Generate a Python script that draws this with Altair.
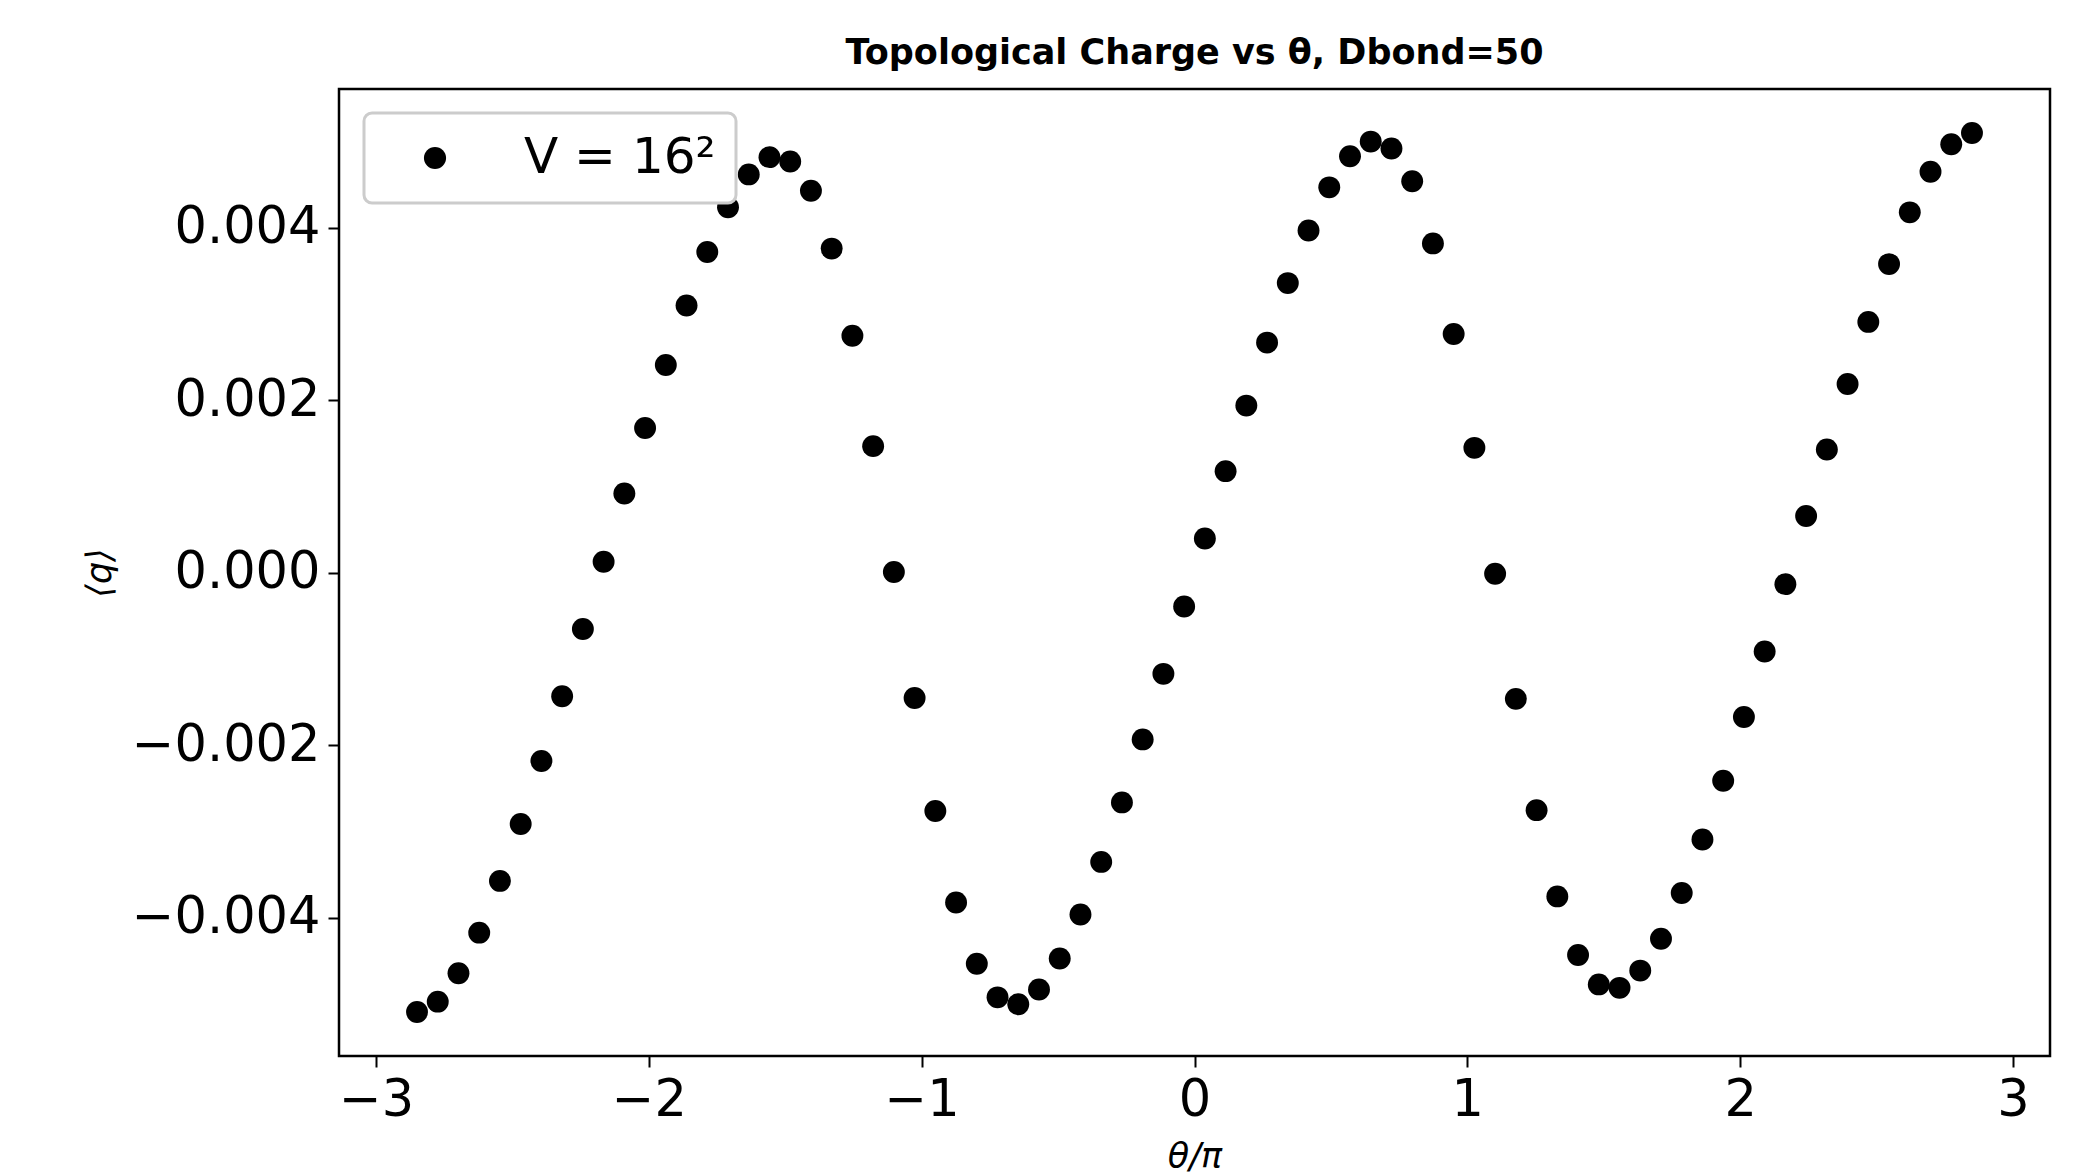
import altair as alt
import pandas as pd

# theta/pi values
theta_over_pi = [
    -2.850, -2.774, -2.698, -2.622, -2.546, -2.470, -2.394, -2.318, -2.242, -2.166,
    -2.090, -2.014, -1.938, -1.862, -1.786, -1.710, -1.634, -1.558, -1.482, -1.406,
    -1.330, -1.254, -1.178, -1.102, -1.026, -0.950, -0.874, -0.798, -0.722, -0.646,
    -0.570, -0.494, -0.418, -0.342, -0.266, -0.190, -0.114, -0.038, 0.038, 0.114,
    0.190, 0.266, 0.342, 0.418, 0.494, 0.570, 0.646, 0.722, 0.798, 0.874,
    0.950, 1.026, 1.102, 1.178, 1.254, 1.330, 1.406, 1.482, 1.558, 1.634,
    1.710, 1.786, 1.862, 1.938, 2.014, 2.090, 2.166, 2.242, 2.318, 2.394,
    2.470, 2.546, 2.622, 2.698, 2.774, 2.850,
]

# <q> values
q_mean = [
    -0.00509, -0.00497, -0.00464, -0.00417, -0.00357, -0.00291, -0.00218, -0.00143, -0.00065, 0.00013,
    0.00092, 0.00168, 0.00241, 0.00310, 0.00372, 0.00424, 0.00462, 0.00482, 0.00477, 0.00443,
    0.00376, 0.00275, 0.00147, 0.00001, -0.00145, -0.00276, -0.00382, -0.00453, -0.00492, -0.00500,
    -0.00483, -0.00447, -0.00396, -0.00335, -0.00266, -0.00193, -0.00117, -0.00039, 0.00040, 0.00118,
    0.00194, 0.00267, 0.00336, 0.00397, 0.00447, 0.00483, 0.00500, 0.00492, 0.00454, 0.00382,
    0.00277, 0.00145, -0.00001, -0.00146, -0.00275, -0.00375, -0.00443, -0.00477, -0.00481, -0.00461,
    -0.00424, -0.00371, -0.00309, -0.00241, -0.00167, -0.00091, -0.00013, 0.00066, 0.00143, 0.00219,
    0.00291, 0.00358, 0.00418, 0.00465, 0.00497, 0.00510,
]

series_label = ["V = 16²"]
x_ticks = [-3, -2, -1, 0, 1, 2, 3]
y_ticks = [-0.004, -0.002, 0.0, 0.002, 0.004]

df = pd.DataFrame({
    "theta": theta_over_pi,
    "q": q_mean,
    "series": series_label * len(theta_over_pi),
})

FONT = "DejaVu Sans"

chart = alt.Chart(df).mark_circle(size=480, opacity=1).encode(
    x=alt.X(
        "theta:Q",
        scale=alt.Scale(domain=[-3.136, 3.136], nice=False, zero=False),
        axis=alt.Axis(
            values=x_ticks, format="d", title="θ/π",
            titleFontStyle="italic", titleFontWeight="normal",
            titleFontSize=35, titlePadding=14,
        ),
    ),
    y=alt.Y(
        "q:Q",
        scale=alt.Scale(domain=[-0.0056, 0.00561], nice=False, zero=False),
        axis=alt.Axis(
            values=y_ticks, format=".3f", title="⟨q⟩",
            titleFontStyle="italic", titleFontWeight="normal",
            titleFontSize=35, titlePadding=22,
        ),
    ),
    color=alt.Color(
        "series:N",
        scale=alt.Scale(domain=series_label, range=["black"]),
        legend=alt.Legend(
            title=None, orient="none", legendX=25, legendY=24,
            labelFontSize=50, labelFont=FONT, labelColor="black", labelLimit=500,
            symbolType="circle", symbolSize=490, symbolOpacity=1,
            symbolStrokeWidth=0, symbolOffset=26, labelOffset=64,
        ),
    ),
).properties(
    width=1711,
    height=967,
    title=alt.TitleParams(
        "Topological Charge vs θ, Dbond=50",
        font=FONT, fontSize=35, fontWeight="bold", color="black",
        anchor="middle", offset=18,
    ),
    autosize=alt.AutoSizeParams(type="none"),
    padding={"left": 339, "top": 89, "right": 27, "bottom": 118},
).configure(
    background="white",
).configure_view(
    stroke="black", strokeWidth=2.5, fill="white",
).configure_axis(
    grid=False, domain=False,
    labelFont=FONT, titleFont=FONT, labelFontSize=51, labelLimit=500,
    labelColor="black", titleColor="black",
    tickColor="black", tickWidth=2, tickSize=11, labelPadding=8,
).configure_legend(
    padding=20, fillColor="white", strokeColor="#cccccc",
    strokeWidth=3, cornerRadius=8,
)

chart.save("out.html", embed_options={"renderer": "svg", "actions": False})
